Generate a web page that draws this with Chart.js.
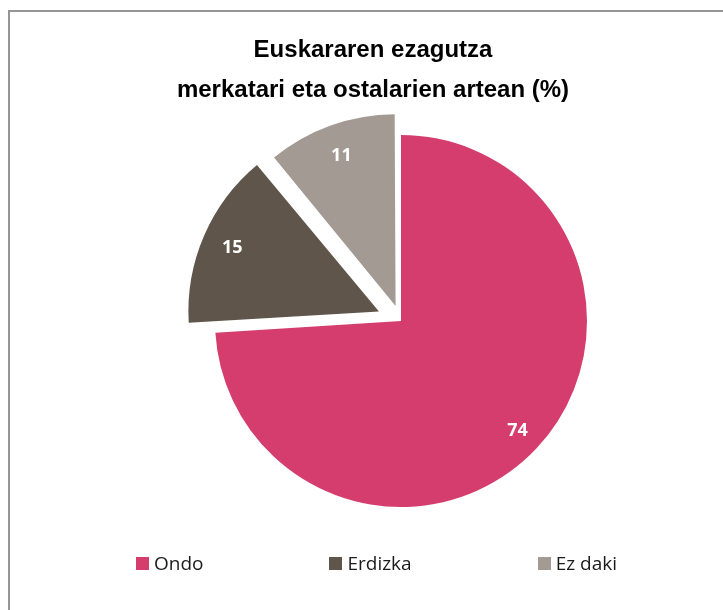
<!DOCTYPE html>
<html>
<head>
<meta charset="utf-8">
<script src="https://cdn.jsdelivr.net/npm/chart.js@4"></script>
<style>
  body { margin: 0; width: 723px; height: 610px; overflow: hidden; background: #fff; position: relative; }
  #frame { position: absolute; left: 8px; top: 10px; width: 800px; height: 700px;
           border-left: 2px solid #959595; border-top: 2px solid #959595; }
  #wrap { position: absolute; left: 0; top: 0; width: 723px; height: 610px; }
  #legend { position: absolute; left: 0; top: 553px; width: 753px; display: flex; justify-content: center;
            gap: 126px; font-family: "Open Sans", sans-serif; font-size: 19px; line-height: 20px; color: #1a1a1a; }
  #legend .item { display: flex; align-items: center; }
  #legend .box { width: 13px; height: 13px; margin-right: 5px; }
</style>
</head>
<body>
<div id="frame"></div>
<div id="wrap"><canvas id="chart"></canvas></div>
<div id="legend"></div>

<script>
// data
const categories = ['Ondo', 'Erdizka', 'Ez daki'];
const values = [74, 15, 11];
const colors = ['#D63D6F', '#5F554B', '#A29A93'];
const explode = [0, 96, 64];   // chart.js offset (drawn shift is offset/4)

const titleLines = ['Euskararen ezagutza', 'merkatari eta ostalarien artean (%)'];

// pie sits a bit right of the title centre, like the excel plot area
const shiftArea = {
    id: 'shiftArea',
    afterLayout(chart) {
        chart.chartArea.left += 28
        chart.chartArea.right += 28
    }
}

// white value labels inside the slices
const sliceLabels = {
    id: 'sliceLabels',
    afterDatasetsDraw(chart) {
        const ctx = chart.ctx
        const meta = chart.getDatasetMeta(0)
        ctx.save()
        ctx.font = 'bold 18px "Open Sans"'
        ctx.fillStyle = '#ffffff'
        ctx.textAlign = 'center'
        ctx.textBaseline = 'middle'
        meta.data.forEach((arc, i) => {
            const p = arc.getProps(['x', 'y', 'startAngle', 'endAngle', 'outerRadius'], true)
            const mid = (p.startAngle + p.endAngle) / 2
            const d = (arc.options.offset || 0) / 4 + p.outerRadius * 0.86
            ctx.fillText(String(values[i]), p.x + Math.cos(mid) * d, p.y + Math.sin(mid) * d)
        })
        ctx.restore()
    }
}

const chart = document.querySelector('#chart').getContext('2d');

new Chart(chart, {
    type: 'pie',
    data: {
        labels: categories,
        datasets: [{
            data: values,
            backgroundColor: colors,
            borderWidth: 0,
            offset: explode,
            radius: 186
        }]
    },
    options: {
        responsive: true,
        maintainAspectRatio: false,
        animation: false,
        layout: { padding: { left: 23, right: 0, top: 0, bottom: 104 } },
        plugins: {
            legend: { display: false },
            tooltip: { enabled: false },
            title: {
                display: true,
                text: titleLines,
                color: '#000',
                font: { family: '"Liberation Sans", Arial, sans-serif', size: 24, weight: 'bold', lineHeight: 1.667 },
                padding: { top: 30, bottom: 26 }
            }
        }
    },
    plugins: [shiftArea, sliceLabels]
})

// legend
const legend = document.querySelector('#legend')
categories.forEach((name, i) => {
    const item = document.createElement('div')
    item.className = 'item'
    const box = document.createElement('span')
    box.className = 'box'
    box.style.background = colors[i]
    const txt = document.createElement('span')
    txt.textContent = name
    item.appendChild(box)
    item.appendChild(txt)
    legend.appendChild(item)
})
</script>
</body>
</html>
